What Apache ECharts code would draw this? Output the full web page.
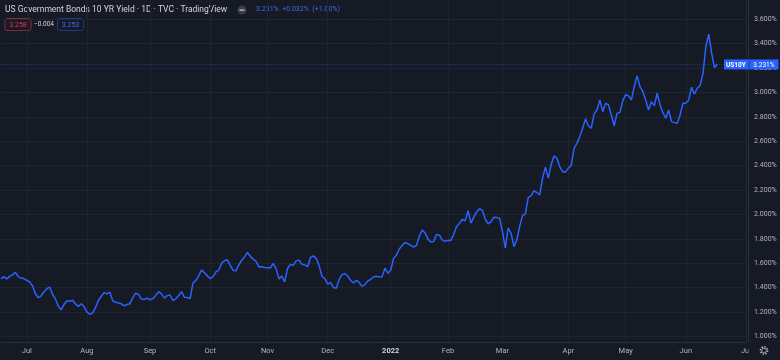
<!DOCTYPE html>
<html><head><meta charset="utf-8">
<script src="https://cdn.jsdelivr.net/npm/echarts@6/dist/echarts.min.js"></script>
<style>html,body{margin:0;padding:0;background:#161a25;}#c{width:780px;height:360px;}</style>
</head><body><div id="c"></div>
<script>
// Month labels on the time axis and trading days per month
const monthLabels = ['', 'Jul', 'Aug', 'Sep', 'Oct', 'Nov', 'Dec', '2022', 'Feb', 'Mar', 'Apr', 'May', 'Jun', 'Jul'];
const tradingDays = [9, 21, 22, 21, 20, 21, 22, 20, 19, 23, 20, 21, 21, 1];

// Daily closing yield (%) per month
const jun21 = [1.472, 1.491, 1.472, 1.493, 1.505, 1.527, 1.491, 1.479, 1.475];
const jul21 = [1.460, 1.448, 1.415, 1.350, 1.316, 1.333, 1.367, 1.392, 1.405, 1.345, 1.307, 1.248, 1.218, 1.263, 1.293, 1.289, 1.297, 1.266, 1.247, 1.268, 1.244];
const aug21 = [1.200, 1.183, 1.193, 1.239, 1.295, 1.330, 1.360, 1.349, 1.363, 1.292, 1.281, 1.275, 1.268, 1.252, 1.262, 1.269, 1.318, 1.355, 1.345, 1.307, 1.303, 1.314];
const sep21 = [1.301, 1.310, 1.336, 1.368, 1.349, 1.314, 1.335, 1.340, 1.295, 1.308, 1.336, 1.368, 1.322, 1.320, 1.311, 1.439, 1.459, 1.497, 1.546, 1.522, 1.497];
const oct21 = [1.474, 1.490, 1.530, 1.544, 1.601, 1.621, 1.629, 1.583, 1.543, 1.538, 1.587, 1.625, 1.652, 1.689, 1.657, 1.634, 1.617, 1.570, 1.571, 1.566];
const nov21 = [1.564, 1.561, 1.600, 1.556, 1.472, 1.495, 1.448, 1.557, 1.591, 1.583, 1.620, 1.626, 1.593, 1.587, 1.570, 1.647, 1.661, 1.640, 1.583, 1.494, 1.475];
const dec21 = [1.430, 1.443, 1.402, 1.396, 1.466, 1.507, 1.516, 1.497, 1.461, 1.438, 1.460, 1.443, 1.411, 1.425, 1.455, 1.467, 1.488, 1.493, 1.488, 1.490, 1.560, 1.519];
const jan22 = [1.543, 1.639, 1.667, 1.717, 1.745, 1.770, 1.761, 1.748, 1.733, 1.748, 1.822, 1.872, 1.849, 1.798, 1.774, 1.778, 1.837, 1.830, 1.790, 1.781];
const feb22 = [1.788, 1.787, 1.838, 1.902, 1.926, 1.961, 1.948, 2.032, 1.929, 1.978, 2.021, 2.048, 2.034, 1.961, 1.923, 1.939, 1.978, 1.976, 1.970];
const mar22 = [1.860, 1.724, 1.888, 1.847, 1.737, 1.792, 1.901, 1.991, 2.005, 2.139, 2.155, 2.193, 2.180, 2.161, 2.298, 2.388, 2.298, 2.407, 2.480, 2.461, 2.393, 2.352, 2.347];
const apr22 = [2.380, 2.401, 2.543, 2.584, 2.639, 2.707, 2.784, 2.726, 2.707, 2.825, 2.857, 2.939, 2.843, 2.912, 2.898, 2.816, 2.726, 2.830, 2.835, 2.934];
const may22 = [2.983, 2.972, 2.939, 3.048, 3.136, 3.048, 3.007, 2.939, 2.857, 2.925, 2.890, 2.994, 2.898, 2.835, 2.789, 2.857, 2.761, 2.753, 2.748, 2.816, 2.912];
const jun22 = [2.912, 2.939, 3.043, 2.989, 3.035, 3.057, 3.158, 3.376, 3.478, 3.322, 3.204, 3.231];
const jul22 = [];

// Price scale tick labels
const yTicks = { min: 1.0, max: 3.6, step: 0.2 };

// Header texts
const titleText = 'US Government Bonds 10 YR Yield · 1D · TVC · TradingView';
const quoteText = '3.231%  +0.032%  (+1.00%)';
const sellText = '3.258', spreadText = '−0.004', buyText = '3.253';
const symbolName = 'US10Y';

const monthValues = [jun21, jul21, aug21, sep21, oct21, nov21, dec21, jan22, feb22, mar22, apr22, may22, jun22, jul22];
const categories = [], values = [];
monthLabels.forEach((lab, m) => {
  for (let k = 0; k < tradingDays[m]; k++) {
    categories.push(lab + '|' + m + '|' + k);
    values.push(k < monthValues[m].length ? monthValues[m][k] : null);
  }
});
const isMonthStart = (idx) => { const p = categories[idx].split('|'); return p[2] === '0' && p[0] !== ''; };
const lastVal = jun22[jun22.length - 1];

const FONT = 'Roboto';
const gridColor = '#1f2431';
const lineColor = '#2962ff';

const chart = echarts.init(document.getElementById('c'));
chart.setOption({
  backgroundColor: '#161a25',
  animation: false,
  textStyle: { fontFamily: FONT },
  grid: [
    { left: 1, right: 34, top: 0, bottom: 18 },
    { left: 1, right: 34, top: 19.3, bottom: 23.5 }
  ],
  xAxis: [
    {
      type: 'category', gridIndex: 0, data: categories, boundaryGap: false,
      axisLine: { show: true, lineStyle: { color: '#2a2e39' } },
      axisTick: { show: false },
      axisLabel: {
        interval: (i) => isMonthStart(i),
        formatter: (v) => { const l = v.split('|')[0]; return l === '2022' ? '{b|2022}' : l; },
        color: '#b2b5be', fontSize: 7.5, margin: 5, fontFamily: FONT,
        rich: { b: { fontWeight: 'bold', color: '#d1d4dc', fontSize: 7.5, fontFamily: FONT } }
      },
      splitLine: { show: true, interval: (i) => isMonthStart(i), lineStyle: { color: gridColor, width: 1 } }
    },
    { type: 'value', gridIndex: 1, show: false, min: 0, max: 1 }
  ],
  yAxis: [
    {
      type: 'value', gridIndex: 0, position: 'right', offset: 2,
      min: yTicks.min - 5.5 / 122, max: yTicks.min + 336.5 / 122,
      axisLine: { show: true, lineStyle: { color: '#2a2e39' } },
      axisTick: { show: false }, axisLabel: { show: false }, splitLine: { show: false }
    },
    {
      type: 'value', gridIndex: 1, position: 'right',
      min: yTicks.min, max: yTicks.max, interval: yTicks.step,
      axisLine: { show: false }, axisTick: { show: false },
      axisLabel: { formatter: (v) => v.toFixed(3) + '%', color: '#b2b5be', fontSize: 7, margin: 8, fontFamily: FONT },
      splitLine: { show: true, lineStyle: { color: gridColor, width: 1 } }
    }
  ],
  series: [{
    type: 'line', xAxisIndex: 0, yAxisIndex: 0, data: values,
    showSymbol: false, symbol: 'none', connectNulls: false,
    lineStyle: { color: lineColor, width: 1.5 },
    z: 3,
    markLine: {
      silent: true, symbol: ['none', 'none'], animation: false,
      lineStyle: { color: 'rgba(41,98,255,0.4)', type: [1, 1], width: 1 },
      data: [{ yAxis: lastVal }],
      label: {
        show: true, position: 'end', distance: -22,
        formatter: '{a|' + symbolName + '}{s| }{b|' + lastVal.toFixed(3) + '%}',
        rich: {
          a: { backgroundColor: lineColor, color: '#ffffff', fontSize: 6.5, fontWeight: 'bold', padding: [2, 3, 1, 2], fontFamily: FONT },
          s: { backgroundColor: '#1e4fd6', width: 0.6, fontSize: 6.5, padding: [2, 0, 1, 0] },
          b: { backgroundColor: lineColor, color: '#ffffff', fontSize: 6.5, padding: [2, 4, 1, 4], fontFamily: FONT }
        }
      }
    }
  }],
  graphic: [
    { type: 'text', left: 5, top: 5, style: { text: titleText, fill: '#d1d4dc', fontSize: 8.5, fontFamily: FONT } },
    { type: 'circle', shape: { cx: 242, cy: 10, r: 4.5 }, style: { fill: '#3a3e4a' } },
    { type: 'rect', shape: { x: 239.5, y: 9.5, width: 5, height: 1.2 }, style: { fill: '#d1d4dc' } },
    { type: 'text', left: 256, top: 6, style: { text: quoteText, fill: '#3d6cf0', fontSize: 7, fontFamily: FONT } },
    { type: 'rect', shape: { x: 5, y: 18.5, width: 26, height: 12, r: 2 }, style: { fill: 'transparent', stroke: '#8e2a35', lineWidth: 1 } },
    { type: 'text', x: 18, y: 24.8, style: { text: sellText, fill: '#f23645', fontSize: 7, fontFamily: FONT, textAlign: 'center', textVerticalAlign: 'middle' } },
    { type: 'text', x: 44, y: 24.8, style: { text: spreadText, fill: '#d1d4dc', fontSize: 6.5, fontFamily: FONT, textAlign: 'center', textVerticalAlign: 'middle' } },
    { type: 'rect', shape: { x: 57.5, y: 18.5, width: 26, height: 12, r: 2 }, style: { fill: 'transparent', stroke: '#1d3a8a', lineWidth: 1 } },
    { type: 'text', x: 70.5, y: 24.8, style: { text: buyText, fill: '#3d6cf0', fontSize: 7, fontFamily: FONT, textAlign: 'center', textVerticalAlign: 'middle' } },
    { type: 'rect', z: 50, shape: { x: 748.5, y: 343, width: 32, height: 17 }, style: { fill: '#161a25' } },
    { type: 'circle', z: 51, shape: { cx: 764, cy: 350.5, r: 3.6 }, style: { fill: 'transparent', stroke: '#b2b5be', lineWidth: 1.6, lineDash: [1.4, 1.4] } },
    { type: 'circle', z: 51, shape: { cx: 764, cy: 350.5, r: 2.3 }, style: { fill: 'transparent', stroke: '#b2b5be', lineWidth: 0.8 } }
  ]
});
</script></body></html>
